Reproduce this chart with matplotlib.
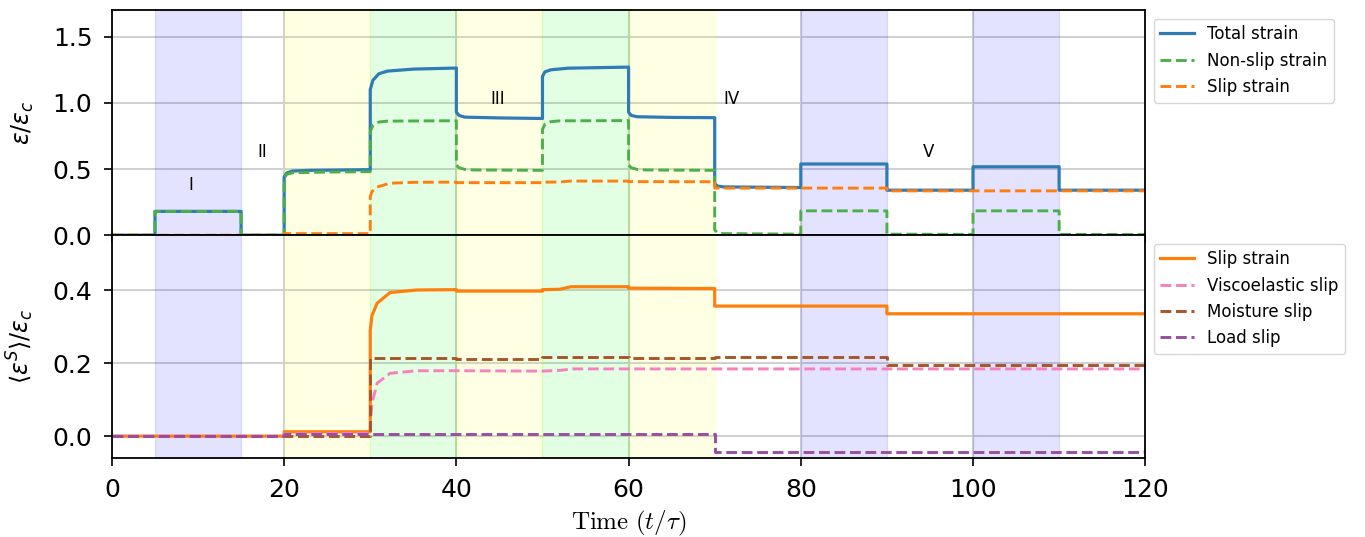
import numpy as np
import matplotlib
matplotlib.use("Agg")
import matplotlib.pyplot as plt

# ---- data (time in t/tau, strain in eps/eps_c) ----
total_strain = [(0, 0), (5, 0), (5, 0.18), (15, 0.18), (15, 0), (20, 0), (20, 0.44), (20.3, 0.47),
                (21, 0.485), (23, 0.49), (30, 0.495), (30, 1.10), (30.3, 1.17), (31, 1.22), (32, 1.24),
                (35, 1.255), (40, 1.263), (40, 0.93), (40.3, 0.905), (41, 0.892), (45, 0.886), (50, 0.882),
                (50, 1.20), (50.3, 1.235), (51, 1.25), (53, 1.262), (60, 1.27), (60, 0.93), (60.3, 0.905),
                (61, 0.895), (65, 0.89), (70, 0.888), (70, 0.39), (70.3, 0.372), (71, 0.365), (80, 0.36),
                (80, 0.538), (90, 0.538), (90, 0.34), (100, 0.34), (100, 0.517), (110, 0.517), (110, 0.34),
                (120, 0.34)]
nonslip_strain = [(0, 0), (5, 0), (5, 0.18), (15, 0.18), (15, 0), (20, 0), (20, 0.43), (20.3, 0.46),
                  (21, 0.472), (25, 0.477), (30, 0.48), (30, 0.78), (30.3, 0.83), (31, 0.855), (32, 0.862),
                  (40, 0.865), (40, 0.53), (40.3, 0.51), (41, 0.497), (42, 0.493), (50, 0.49), (50, 0.80),
                  (50.3, 0.84), (51, 0.858), (52, 0.864), (60, 0.866), (60, 0.53), (60.3, 0.51), (61, 0.497),
                  (62, 0.493), (70, 0.49), (70, 0.04), (70.3, 0.02), (71, 0.012), (80, 0.008), (80, 0.184),
                  (90, 0.184), (90, 0.008), (100, 0.006), (100, 0.184), (110, 0.184), (110, 0.006),
                  (120, 0.005)]
slip_strain = [(0, 0), (20, 0), (20, 0.012), (30, 0.012), (30, 0.29), (30.2, 0.33), (30.8, 0.364),
               (32.3, 0.393), (35.4, 0.40), (40, 0.401), (40, 0.397), (50, 0.397), (50, 0.401), (52, 0.402),
               (53.3, 0.409), (60, 0.409), (60, 0.405), (70, 0.404), (70, 0.356), (90, 0.356), (90, 0.335),
               (120, 0.335)]
visco_slip = [(0, 0), (20, 0), (20, 0.006), (30, 0.008), (30, 0.03), (30.2, 0.09), (30.8, 0.145),
              (32.3, 0.172), (35.4, 0.179), (40, 0.179), (50, 0.178), (52, 0.180), (53.5, 0.184),
              (120, 0.184)]
moisture_slip = [(0, 0), (30, 0), (30, 0.215), (40, 0.215), (40, 0.212), (50, 0.212), (50, 0.216),
                 (60, 0.216), (60, 0.214), (70, 0.214), (70, 0.216), (90, 0.216), (90, 0.195), (120, 0.195)]
load_slip = [(0, 0), (20, 0), (20, 0.005), (70, 0.005), (70, -0.044), (120, -0.044)]

# shaded loading phases
phases_blue = [(5, 15), (80, 90), (100, 110)]
phases_yellow = [(20, 30), (40, 50), (60, 70)]
phases_green = [(30, 40), (50, 60)]

stage_labels = ["I", "II", "III", "IV", "V"]
stage_t = [9.2, 17.4, 44.8, 72.0, 94.8]
stage_y = [0.38, 0.63, 1.03, 1.03, 0.63]

xticks = [0, 20, 40, 60, 80, 100, 120]
top_yticks = [0.0, 0.5, 1.0, 1.5]
bot_yticks = [0.0, 0.2, 0.4]

C_BLUE = "#2f7bb6"
C_GREEN = "#4daf4a"
C_ORANGE = "#ff7f0e"
C_PINK = "#f781bf"
C_BROWN = "#a65628"
C_PURPLE = "#984ea3"

fig = plt.figure(figsize=(13.65, 5.37), dpi=100)
ax1 = fig.add_axes([0.082, 0.562, 0.757, 0.419])
ax2 = fig.add_axes([0.082, 0.147, 0.757, 0.415], sharex=ax1)


def xy(pairs):
    a = np.array(pairs, dtype=float)
    return a[:, 0], a[:, 1]


for ax in (ax1, ax2):
    ax.set_axisbelow(True)
    ax.grid(True, color="#d0d0d0", lw=1.4)
    for a, b in phases_blue:
        ax.axvspan(a, b, color="blue", alpha=0.11, lw=1)
    for a, b in phases_yellow:
        ax.axvspan(a, b, color="yellow", alpha=0.11, lw=1)
    for a, b in phases_green:
        ax.axvspan(a, b, color="lime", alpha=0.11, lw=1)
    for sp in ax.spines.values():
        sp.set_linewidth(1.3)
    ax.tick_params(labelsize=18, length=6, width=1.2, pad=8)

ax1.plot(*xy(total_strain), color=C_BLUE, lw=2.3, label="Total strain")
ax1.plot(*xy(nonslip_strain), color=C_GREEN, lw=2.1, ls="--", label="Non-slip strain")
ax1.plot(*xy(slip_strain), color=C_ORANGE, lw=2.1, ls="--", label="Slip strain")

for s, t, y in zip(stage_labels, stage_t, stage_y):
    ax1.text(t, y, s, fontsize=12, ha="center", va="center")

ax2.plot(*xy(slip_strain), color=C_ORANGE, lw=2.3, label="Slip strain")
ax2.plot(*xy(visco_slip), color=C_PINK, lw=2.1, ls="--", label="Viscoelastic slip")
ax2.plot(*xy(moisture_slip), color=C_BROWN, lw=2.1, ls="--", label="Moisture slip")
ax2.plot(*xy(load_slip), color=C_PURPLE, lw=2.1, ls="--", label="Load slip")

ax1.set_xlim(0, 120)
ax1.set_ylim(0, 1.7)
ax2.set_ylim(-0.06, 0.55)
ax1.set_xticks(xticks)
ax1.set_yticks(top_yticks)
ax2.set_yticks(bot_yticks)
ax1.tick_params(labelbottom=False)

ax1.set_ylabel(r"$\varepsilon/\varepsilon_c$", fontsize=17, labelpad=12)
ax2.set_ylabel(r"$\langle\varepsilon^S\rangle/\varepsilon_c$", fontsize=17, labelpad=12)
ax2.set_xlabel(r"$\mathrm{Time}\ (t/\tau)$", fontsize=18, math_fontfamily="cm", labelpad=5)
fig.align_ylabels([ax1, ax2])

ax1.legend(loc="upper left", bbox_to_anchor=(1, 1), fontsize=12)
ax2.legend(loc="upper left", bbox_to_anchor=(1, 1), fontsize=12)

fig.savefig("out.png", dpi=100)
